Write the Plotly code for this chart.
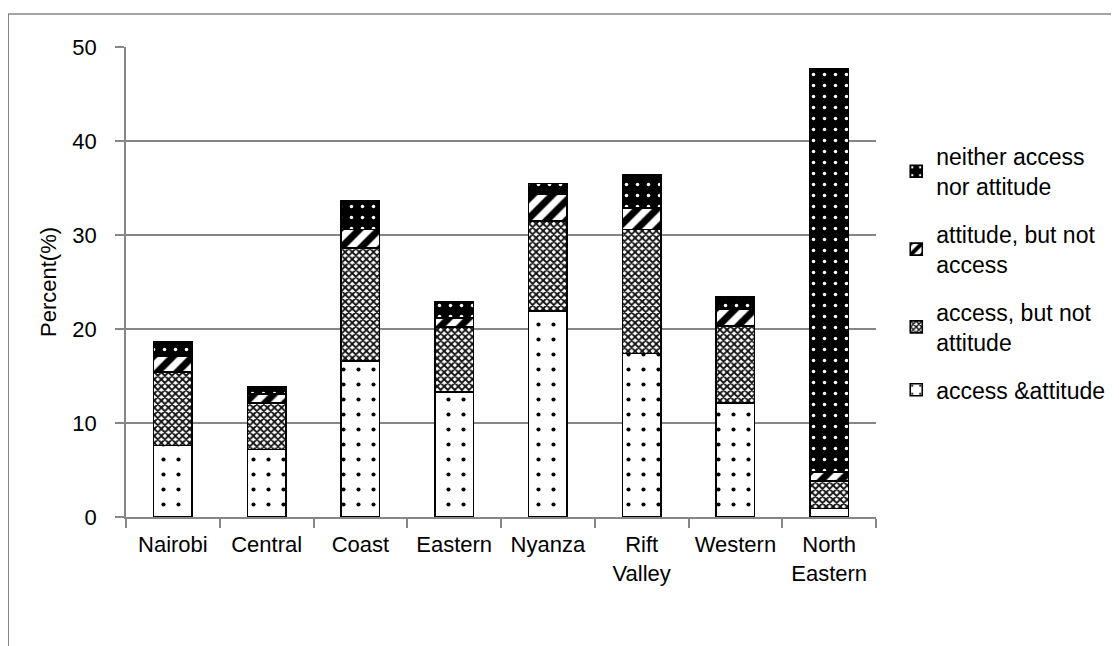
import plotly.graph_objects as go

regions = ["Nairobi", "Central", "Coast", "Eastern", "Nyanza", "Rift<br>Valley", "Western", "North<br>Eastern"]
access_attitude = [7.6, 7.2, 16.6, 13.3, 21.9, 17.4, 12.1, 0.9]
access_not_attitude = [7.8, 4.9, 12.0, 6.9, 9.6, 13.2, 8.2, 2.9]
attitude_not_access = [1.7, 1.0, 2.0, 1.0, 2.8, 2.3, 1.8, 1.0]
neither = [1.5, 0.8, 3.0, 1.7, 1.2, 3.5, 1.3, 42.9]

series_names = ["access &attitude", "access, but not<br>attitude", "attitude, but not<br>access", "neither access<br>nor attitude"]

FONT = "Liberation Sans, Arial, sans-serif"
GREY = "#868686"

patterns = [
    dict(shape=".", fgcolor="black", bgcolor="white", size=15, solidity=0.06, fillmode="replace"),
    dict(shape="x", fgcolor="#111111", bgcolor="white", size=5, solidity=0.6, fillmode="replace"),
    dict(shape="/", fgcolor="black", bgcolor="white", size=14, solidity=0.5, fillmode="replace"),
    dict(shape=".", fgcolor="white", bgcolor="black", size=11, solidity=0.08, fillmode="replace"),
]

fig = go.Figure()
for i, (name, vals) in enumerate(zip(series_names, [access_attitude, access_not_attitude, attitude_not_access, neither])):
    fig.add_trace(go.Bar(
        x=regions, y=vals, name=name, legendgroup=f"g{i}", legendrank=1000 - i,
        marker=dict(color="white", pattern=patterns[i], line=dict(color="black", width=1.6)),
    ))

fig.update_layout(
    barmode="stack",
    bargap=0.59,
    width=1119, height=646,
    margin=dict(l=118, r=251, t=39, b=137),
    paper_bgcolor="white", plot_bgcolor="white",
    font=dict(family=FONT, size=22, color="black"),
    showlegend=True,
    legend=dict(traceorder="grouped", x=1.027, xanchor="left", y=0.813, yanchor="top",
                font=dict(family=FONT, size=23), tracegroupgap=15, itemwidth=30),
    xaxis=dict(showline=True, linecolor=GREY, linewidth=1.5, ticks="outside", tickson="boundaries",
               ticklen=9, tickcolor=GREY, tickwidth=1.5, showgrid=False, tickangle=0, automargin=False,
               ticklabelstandoff=7),
    yaxis=dict(range=[0, 50], dtick=10, showline=True, linecolor=GREY, linewidth=1.5,
               ticks="outside", ticklen=9, tickcolor=GREY, tickwidth=1.5, automargin=False,
               ticklabelstandoff=14,
               showgrid=True, gridcolor=GREY, gridwidth=1.5, zeroline=False,
               title=dict(text="Percent(%)", font=dict(family=FONT, size=22), standoff=10)),
    shapes=[dict(type="rect", xref="paper", yref="paper", x0=-0.157, x1=1.4, y0=-0.35, y1=1.07,
                 line=dict(color=GREY, width=1.5), fillcolor="rgba(0,0,0,0)", layer="below")],
)

fig.write_html("out.html")
